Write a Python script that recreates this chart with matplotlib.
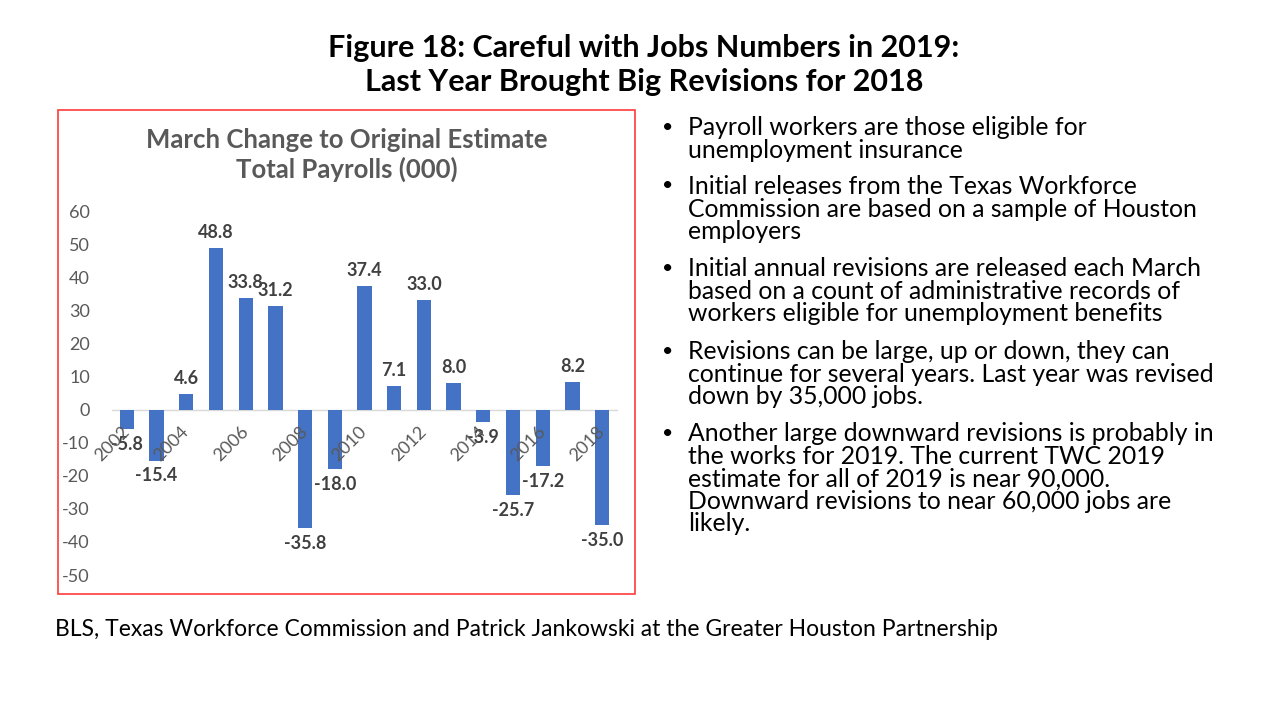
import matplotlib
matplotlib.use("Agg")
import matplotlib.pyplot as plt
from matplotlib.patches import Rectangle

# Data
years = [2002, 2003, 2004, 2005, 2006, 2007, 2008, 2009, 2010,
         2011, 2012, 2013, 2014, 2015, 2016, 2017, 2018]
revisions = [-5.8, -15.4, 4.6, 48.8, 33.8, 31.2, -35.8, -18.0, 37.4,
             7.1, 33.0, 8.0, -3.9, -25.7, -17.2, 8.2, -35.0]
yticks = [60, 50, 40, 30, 20, 10, 0, -10, -20, -30, -40, -50]

title_lines = ["Figure 18: Careful with Jobs Numbers in 2019:",
               "Last Year Brought Big Revisions for 2018"]
chart_title = "March Change to Original Estimate\nTotal Payrolls (000)"
bullets = [
    "Payroll workers are those eligible for\nunemployment insurance",
    "Initial releases from the Texas Workforce\nCommission are based on a sample of Houston\nemployers",
    "Initial annual revisions are released each March\nbased on a count of administrative records of\nworkers eligible for unemployment benefits",
    "Revisions can be large, up or down, they can\ncontinue for several years. Last year was revised\ndown by 35,000 jobs.",
    "Another large downward revisions is probably in\nthe works for 2019. The current TWC 2019\nestimate for all of 2019 is near 90,000.\nDownward revisions to near 60,000 jobs are\nlikely.",
]
source = "BLS, Texas Workforce Commission and Patrick Jankowski at the Greater Houston Partnership"

plt.rcParams['font.family'] = ['Lato', 'DejaVu Sans']
plt.rcParams['axes.unicode_minus'] = False

W, H = 1280, 719
fig = plt.figure(figsize=(W / 100, H / 100), dpi=100)
fig.patch.set_facecolor('white')

def fx(px):
    return px / W

def fy(py):
    return 1 - py / H

# main title
fig.text(fx(644), fy(48), title_lines[0], ha='center', va='center',
         fontsize=22, fontweight='bold', color='black')
fig.text(fx(644), fy(82), title_lines[1], ha='center', va='center',
         fontsize=22, fontweight='bold', color='black')

# red frame around chart
fig.patches.append(Rectangle((fx(58), fy(594)), fx(635) - fx(58), fy(110) - fy(594),
                             transform=fig.transFigure, fill=False,
                             edgecolor='#FF3B3B', linewidth=1.2))

fig.text(fx(347), fy(155), chart_title, ha='center', va='center',
         fontsize=18.5, fontweight='bold', color='#595959', linespacing=1.2)

# chart axes
ax = fig.add_axes([fx(112), fy(575), fx(617) - fx(112), fy(211) - fy(575)])
x = list(range(len(years)))
ax.bar(x, revisions, width=0.48, color='#4472C4', zorder=1)
ax.set_xlim(-0.5, len(years) - 0.5)
ax.set_ylim(-50, 60)
ax.set_yticks(yticks)
ax.tick_params(axis='y', length=0, labelsize=13, labelcolor='#595959', pad=16)
for s in ['top', 'right', 'left']:
    ax.spines[s].set_visible(False)
ax.spines['bottom'].set_position(('data', 0))
ax.spines['bottom'].set_color('#D9D9D9')
ax.spines['bottom'].set_linewidth(1)
ax.spines['bottom'].set_zorder(0.5)
ax.set_xticks(x[::2])
ax.set_xticklabels([str(y) for y in years[::2]], rotation=45, ha='right', va='center',
                   rotation_mode='anchor', fontsize=13, color='#595959')
ax.tick_params(axis='x', length=0, pad=14)
ax.xaxis.set_zorder(5)
ax.patch.set_alpha(0)

for xi, v in zip(x, revisions):
    ax.annotate(f"{v:.1f}", (xi, v), xytext=(0, 5 if v >= 0 else -5),
                textcoords='offset points', ha='center',
                va='bottom' if v >= 0 else 'top',
                fontsize=13, fontweight='bold', color='#404040', zorder=4)

# bullet list
bullet_y = [127, 186, 268, 351, 433]
for by, txt in zip(bullet_y, bullets):
    fig.text(fx(662), fy(by), "\u2022", ha='left', va='center', fontsize=14, color='black')
    fig.text(fx(688), fy(by - 11), txt, ha='left', va='top', fontsize=17.8,
             color='black', linespacing=0.98)

fig.text(fx(55), fy(630), source, ha='left', va='center', fontsize=16.5, color='black')

fig.savefig('out.png', dpi=100)
